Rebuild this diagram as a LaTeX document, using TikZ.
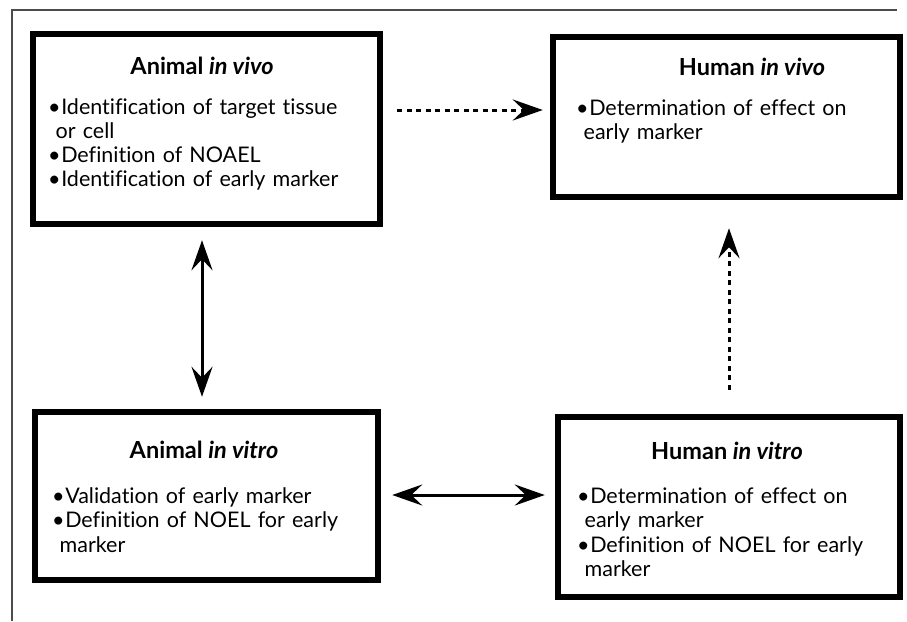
\documentclass[tikz,border=0pt]{standalone}
\usepackage{fontspec}
\setmainfont{Lato}[Ligatures=NoCommon]
\usetikzlibrary{arrows.meta}
\newcommand\bul{\textbullet\kern0.6pt}
\newcommand\ind{\hspace*{7.5pt}}
\tikzset{
  myhead/.tip={Stealth[length=30pt,width=21pt,inset=11pt]},
  frame/.style={draw=black!70, line width=1.1pt},
  box/.style={draw=black, line width=5.5pt, inner sep=0pt},
  titletext/.style={font=\fontsize{23.5}{26}\selectfont\bfseries, inner sep=0pt, anchor=base},
  bodytext/.style={font=\fontsize{21.5}{24}\selectfont, inner sep=0pt, anchor=base west, align=left, text width=335pt},
  bodylow/.style={bodytext, font=\fontsize{21.5}{24.5}\selectfont},
  solidarrow/.style={line width=3pt},
  dasharrow/.style={line width=3pt, dash pattern=on 5pt off 4.5pt}
}
\begin{document}
\begin{tikzpicture}[x=1pt,y=-1pt]
\useasboundingbox (0,0) rectangle (907,621);
% outer frame
\coordinate (fbl) at (12,621);
\coordinate (ftl) at (12,10);
\coordinate (ftr) at (897,10);
\draw[frame] (fbl) -- (ftl) -- (ftr);

% boxes
\node[box, minimum width=347pt, minimum height=190pt] (aiv) at (206.5,129) {};
\node[box, minimum width=347pt, minimum height=160pt] (hiv) at (726.5,117) {};
\node[box, minimum width=343pt, minimum height=168pt] (aivt) at (206.5,496) {};
\node[box, minimum width=342pt, minimum height=180pt] (hivt) at (729,507) {};

% titles
\node[titletext] (t1) at (202,74) {Animal \textit{in vivo}};
\node[titletext] (t2) at (752,75) {Human \textit{in vivo}};
\node[titletext] (t3) at (204,458) {Animal \textit{in vitro}};
\node[titletext] (t4) at (727,459) {Human \textit{in vitro}};

% bodies
\node[bodytext] (b1) at (48,114) {\bul Identification of target tissue\\ \ind or cell\\ \bul Definition of NOAEL\\ \bul Identification of early marker};
\node[bodytext] (b2) at (576,115) {\bul Determination of effect on\\ \ind early marker};
\node[bodylow] (b3) at (52,503) {\bul Validation of early marker\\ \bul Definition of NOEL for early\\ \ind marker};
\node[bodylow] (b4) at (577,503) {\bul Determination of effect on\\ \ind early marker\\ \bul Definition of NOEL for early\\ \ind marker};

% connectors
\coordinate (row1) at (0,110);
\draw[dasharrow, -myhead, shorten <=14.5pt, shorten >=7.5pt] (aiv.east |- row1) -- (hiv.west |- row1);
\draw[solidarrow, myhead-myhead, shorten <=13.5pt, shorten >=12.5pt] ([xshift=-4.5pt]aiv.south) -- ([xshift=-4.5pt]aivt.north);
\draw[dasharrow, -myhead, shorten <=24.5pt, shorten >=28.5pt] (hivt.north) -- (hivt.north |- hiv.south);
\draw[solidarrow, myhead-myhead, shorten <=11.5pt, shorten >=10.5pt] ([yshift=1pt]aivt.east) -- ([yshift=1pt]aivt.east -| hivt.west);
\end{tikzpicture}
\end{document}
